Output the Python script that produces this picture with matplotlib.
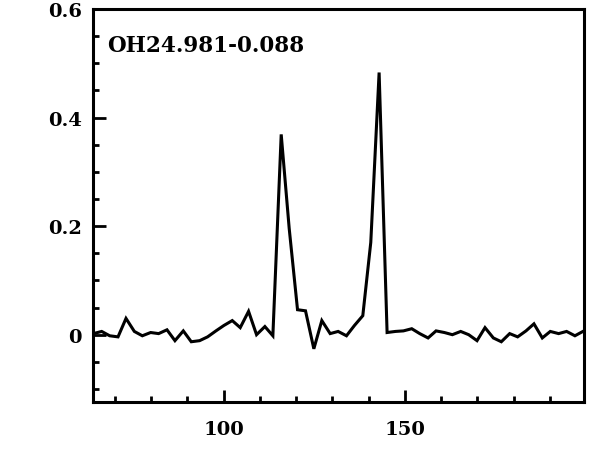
import matplotlib
matplotlib.use("Agg")
import matplotlib.pyplot as plt
from matplotlib.ticker import MultipleLocator

# velocity channels (km/s)
velocity = [64.1, 66.4, 68.6, 70.9, 73.1, 75.4, 77.6, 79.9, 82.1, 84.4,
            86.6, 88.9, 91.1, 93.4, 95.6, 97.9, 100.1, 102.4, 104.6, 106.9,
            109.1, 111.4, 113.6, 115.9, 118.1, 120.4, 122.6, 124.9, 127.1, 129.4,
            131.6, 133.9, 136.1, 138.4, 140.6, 142.9, 145.1, 147.4, 149.6, 151.9,
            154.1, 156.4, 158.6, 160.9, 163.1, 165.4, 167.6, 169.9, 172.1, 174.4,
            176.6, 178.9, 181.1, 183.4, 185.6, 187.9, 190.1, 192.4, 194.6, 196.9,
            199.1]
flux = [0.002, 0.006, -0.002, -0.004, 0.030, 0.006, -0.002, 0.004, 0.002, 0.009,
        -0.011, 0.007, -0.013, -0.011, -0.004, 0.007, 0.017, 0.026, 0.013, 0.043,
        0.000, 0.015, -0.002, 0.369, 0.196, 0.046, 0.044, -0.026, 0.026, 0.002,
        0.006, -0.002, 0.017, 0.035, 0.170, 0.483, 0.004, 0.006, 0.007, 0.011,
        0.002, -0.006, 0.007, 0.004, 0.000, 0.006, 0.000, -0.011, 0.013, -0.006,
        -0.013, 0.002, -0.004, 0.007, 0.020, -0.006, 0.006, 0.002, 0.006, -0.002,
        0.006]
source_name = "OH24.981-0.088"
xticks_major = [100, 150]
yticks_major = [0, 0.2, 0.4, 0.6]
ytick_labels = ["0", "0.2", "0.4", "0.6"]

plt.rcParams['font.family'] = ['DejaVu Serif']
plt.rcParams['font.weight'] = 'bold'

fig = plt.figure(figsize=(5.98, 4.60), dpi=100)
ax = fig.add_axes([93/598, 1 - 403/460, (584 - 93)/598, (403 - 10)/460])

ax.plot(velocity, flux, color='black', lw=2.2, solid_joinstyle='miter')

ax.set_xlim(64.0, 199.4)
ax.set_ylim(-0.124, 0.6)

ax.set_xticks(xticks_major)
ax.set_xticklabels([str(t) for t in xticks_major])
ax.xaxis.set_minor_locator(MultipleLocator(10))
ax.set_yticks(yticks_major)
ax.set_yticklabels(ytick_labels)
ax.yaxis.set_minor_locator(MultipleLocator(0.05))

ax.tick_params(which='both', direction='in', top=False, right=False, width=2, color='black')
ax.tick_params(which='major', length=9)
ax.tick_params(which='minor', length=4.5)
ax.tick_params(axis='x', which='major', pad=13, labelsize=14)
ax.tick_params(axis='y', which='major', pad=8, labelsize=14)
for lab in ax.get_xticklabels() + ax.get_yticklabels():
    lab.set_fontweight('bold')

for sp in ax.spines.values():
    sp.set_linewidth(2.2)
    sp.set_color('black')

ax.text(0.0285, 0.908, source_name, transform=ax.transAxes, fontsize=15.5,
        fontweight='bold', ha='left', va='center', color='black')

fig.savefig("out.png", dpi=100)
